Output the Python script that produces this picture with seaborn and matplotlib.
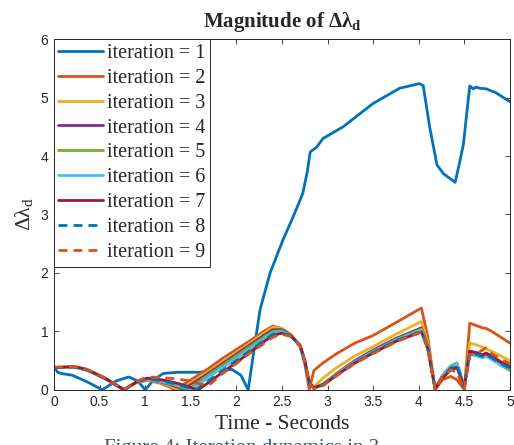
import matplotlib
matplotlib.use("Agg")
import matplotlib.pyplot as plt
import seaborn as sns

# ─── Data ────────────────────────────────────────────────────────────────────
t_blue = [0.0, 0.04, 0.08, 0.2, 0.36, 0.53, 0.68, 0.82, 0.92, 1.0, 1.1, 1.2, 1.35,
          1.6, 1.75, 1.95, 2.05, 2.13, 2.2, 2.26, 2.37, 2.51, 2.62, 2.7, 2.73, 2.78,
          2.81, 2.88, 2.95, 3.17, 3.5, 3.79, 4.01, 4.05, 4.12, 4.2, 4.27, 4.4, 4.45,
          4.49, 4.56, 4.6, 4.63, 4.67, 4.74, 4.85, 5.0]
iter1 = [0.4, 0.3, 0.28, 0.25, 0.14, 0.0, 0.15, 0.22, 0.15, 0.0, 0.18, 0.28, 0.3,
         0.3, 0.33, 0.35, 0.25, 0.0, 0.75, 1.37, 2.0, 2.56, 2.95, 3.25, 3.37, 3.75,
         4.07, 4.15, 4.3, 4.5, 4.9, 5.16, 5.24, 5.2, 4.5, 3.85, 3.7, 3.55, 3.9,
         4.2, 5.2, 5.15, 5.18, 5.16, 5.15, 5.08, 4.93]

t_grp = [0.0, 0.1, 0.22, 0.36, 0.55, 0.77, 0.9, 1.02, 1.15, 1.25, 1.33, 1.38, 1.42,
         1.46, 1.5, 1.55, 1.6, 1.7, 1.85, 2.0, 2.15, 2.3, 2.4, 2.5, 2.6, 2.7, 2.75,
         2.8, 2.85, 2.95, 3.1, 3.3, 3.5, 3.75, 4.03, 4.1, 4.18, 4.26, 4.35, 4.42,
         4.5, 4.56, 4.63, 4.7, 4.74, 4.8, 4.9, 5.0]
iter2 = [0.38, 0.38, 0.39, 0.34, 0.2, 0.0, 0.12, 0.16, 0.12, 0.06, 0.0, 0.05, 0.09,
         0.13, 0.17, 0.22, 0.27, 0.37, 0.54, 0.69, 0.84, 1.0, 1.09, 1.05, 0.93, 0.74, 0.45,
         0.0, 0.33, 0.46, 0.62, 0.8, 0.93, 1.15, 1.4, 0.9, 0.0, 0.17, 0.23, 0.17,
         0.0, 1.14, 1.1, 1.06, 1.05, 1.0, 0.9, 0.8]
iter3 = [0.38, 0.38, 0.39, 0.34, 0.2, 0.0, 0.12, 0.17, 0.13, 0.08, 0.03, 0.0, 0.04,
         0.08, 0.12, 0.17, 0.22, 0.32, 0.48, 0.64, 0.8, 0.97, 1.07, 1.05, 0.94, 0.74, 0.5,
         0.1, 0.05, 0.2, 0.38, 0.58, 0.74, 0.95, 1.17, 0.8, 0.02, 0.2, 0.35, 0.4,
         0.05, 0.8, 0.77, 0.73, 0.7, 0.66, 0.58, 0.5]
iter4 = [0.38, 0.38, 0.39, 0.34, 0.2, 0.0, 0.13, 0.18, 0.14, 0.1, 0.06, 0.03, 0.0,
         0.05, 0.09, 0.14, 0.19, 0.29, 0.45, 0.61, 0.77, 0.93, 1.03, 1.03, 0.94, 0.75, 0.5,
         0.12, 0.02, 0.1, 0.28, 0.5, 0.68, 0.88, 1.06, 0.75, 0.02, 0.22, 0.38, 0.43,
         0.05, 0.66, 0.64, 0.6, 0.63, 0.58, 0.48, 0.4]
iter5 = [0.38, 0.38, 0.39, 0.34, 0.2, 0.0, 0.13, 0.18, 0.15, 0.11, 0.08, 0.05, 0.03,
         0.01, 0.05, 0.1, 0.15, 0.26, 0.42, 0.58, 0.74, 0.9, 1.0, 1.01, 0.93, 0.75, 0.5,
         0.1, 0.03, 0.1, 0.27, 0.48, 0.66, 0.86, 1.04, 0.72, 0.02, 0.25, 0.41, 0.46,
         0.06, 0.62, 0.6, 0.57, 0.58, 0.53, 0.42, 0.33]
iter6 = [0.38, 0.38, 0.39, 0.34, 0.2, 0.0, 0.13, 0.18, 0.15, 0.12, 0.09, 0.07, 0.05,
         0.03, 0.01, 0.06, 0.11, 0.22, 0.38, 0.54, 0.7, 0.87, 0.97, 0.99, 0.92, 0.75, 0.5,
         0.1, 0.03, 0.09, 0.26, 0.47, 0.65, 0.85, 1.02, 0.72, 0.02, 0.24, 0.4, 0.44,
         0.05, 0.6, 0.58, 0.55, 0.57, 0.52, 0.42, 0.35]
iter7 = [0.38, 0.39, 0.4, 0.35, 0.21, 0.0, 0.13, 0.2, 0.18, 0.15, 0.12, 0.1, 0.08,
         0.06, 0.04, 0.01, 0.02, 0.13, 0.3, 0.47, 0.64, 0.82, 0.93, 0.97, 0.92, 0.76, 0.5,
         0.12, 0.04, 0.08, 0.25, 0.46, 0.63, 0.83, 0.99, 0.7, 0.02, 0.2, 0.34, 0.38,
         0.04, 0.66, 0.63, 0.59, 0.62, 0.57, 0.47, 0.39]
iter8 = [0.38, 0.38, 0.39, 0.34, 0.2, 0.0, 0.13, 0.19, 0.16, 0.13, 0.1, 0.08, 0.06,
         0.04, 0.02, 0.0, 0.05, 0.16, 0.33, 0.5, 0.67, 0.84, 0.95, 0.97, 0.92, 0.75, 0.5,
         0.1, 0.03, 0.09, 0.25, 0.46, 0.64, 0.84, 1.0, 0.7, 0.02, 0.22, 0.37, 0.42,
         0.05, 0.63, 0.61, 0.57, 0.6, 0.55, 0.45, 0.37]
iter9 = [0.39, 0.39, 0.4, 0.35, 0.21, 0.01, 0.14, 0.22, 0.21, 0.2, 0.19, 0.18, 0.17,
         0.16, 0.14, 0.12, 0.1, 0.08, 0.28, 0.45, 0.63, 0.79, 0.9, 0.95, 0.91, 0.76, 0.5,
         0.12, 0.02, 0.07, 0.24, 0.45, 0.62, 0.82, 0.99, 0.7, 0.0, 0.22, 0.34, 0.3,
         0.0, 0.6, 0.62, 0.68, 0.72, 0.62, 0.52, 0.45]

labels = [f"iteration = {i}" for i in range(1, 10)]
colors = ["#0072BD", "#D95319", "#EDB120", "#7E2F8E", "#77AC30",
          "#4DBEEE", "#A2142F", "#0072BD", "#D95319"]
dashed = [False] * 7 + [True, True]

# ─── Plot ────────────────────────────────────────────────────────────────────
sns.set_style("ticks")
plt.rcParams["font.family"] = ["Liberation Sans", "DejaVu Sans"]
plt.rcParams["mathtext.fontset"] = "custom"
plt.rcParams["mathtext.rm"] = "Liberation Serif"
plt.rcParams["mathtext.it"] = "Liberation Serif:italic"
plt.rcParams["mathtext.bf"] = "Liberation Serif:bold"

fig = plt.figure(figsize=(5.14, 4.45), dpi=100)
ax = fig.add_axes([0.105, 0.124, 0.887, 0.788])

series = [(t_blue, iter1)] + [(t_grp, s) for s in
                              [iter2, iter3, iter4, iter5, iter6, iter7, iter8, iter9]]
for (t, v), lab, c, d in zip(series, labels, colors, dashed):
    sns.lineplot(x=t, y=v, ax=ax, color=c, lw=2.0, label=lab,
                 linestyle=(0, (3.2, 2.2)) if d else "-")

ax.set_xlim(0, 5)
ax.set_ylim(0, 6)
ax.set_xticks([0, 0.5, 1, 1.5, 2, 2.5, 3, 3.5, 4, 4.5, 5])
ax.set_xticklabels(["0", "0.5", "1", "1.5", "2", "2.5", "3", "3.5", "4", "4.5", "5"])
ax.set_yticks(range(7))
ax.tick_params(direction="in", length=3.5, width=0.6, labelsize=10,
               colors="#262626", top=True, right=True, pad=4)
for s in ax.spines.values():
    s.set_visible(True)
    s.set_color("#262626")
    s.set_linewidth(0.7)

serif = "Liberation Serif"
ax.set_title("Magnitude of Δλ$_\\mathbf{d}$", fontfamily=serif, fontweight="bold",
             fontsize=15, pad=9)
ax.set_xlabel("Time - Seconds", fontfamily=serif, fontsize=15.5, labelpad=4,
              color="#262626")
ax.set_ylabel("Δλ$_\\mathrm{d}$", fontfamily=serif, fontsize=15.5, labelpad=4,
              color="#262626")

leg = ax.legend(loc="upper left", prop={"family": serif, "size": 14.5},
                handlelength=2.2, handletextpad=0.2, labelspacing=0.29,
                borderpad=0.22, borderaxespad=0, fancybox=False, framealpha=1,
                edgecolor="#262626")
leg.get_frame().set_linewidth(0.7)

# caption of the source document, cut off at the bottom edge
fig.text(0.47, -0.018, "Figure 4: Iteration dynamics in 3", fontfamily=serif,
         fontsize=15, color="#44546A", ha="center", va="baseline")

fig.savefig("out.png", dpi=100)
